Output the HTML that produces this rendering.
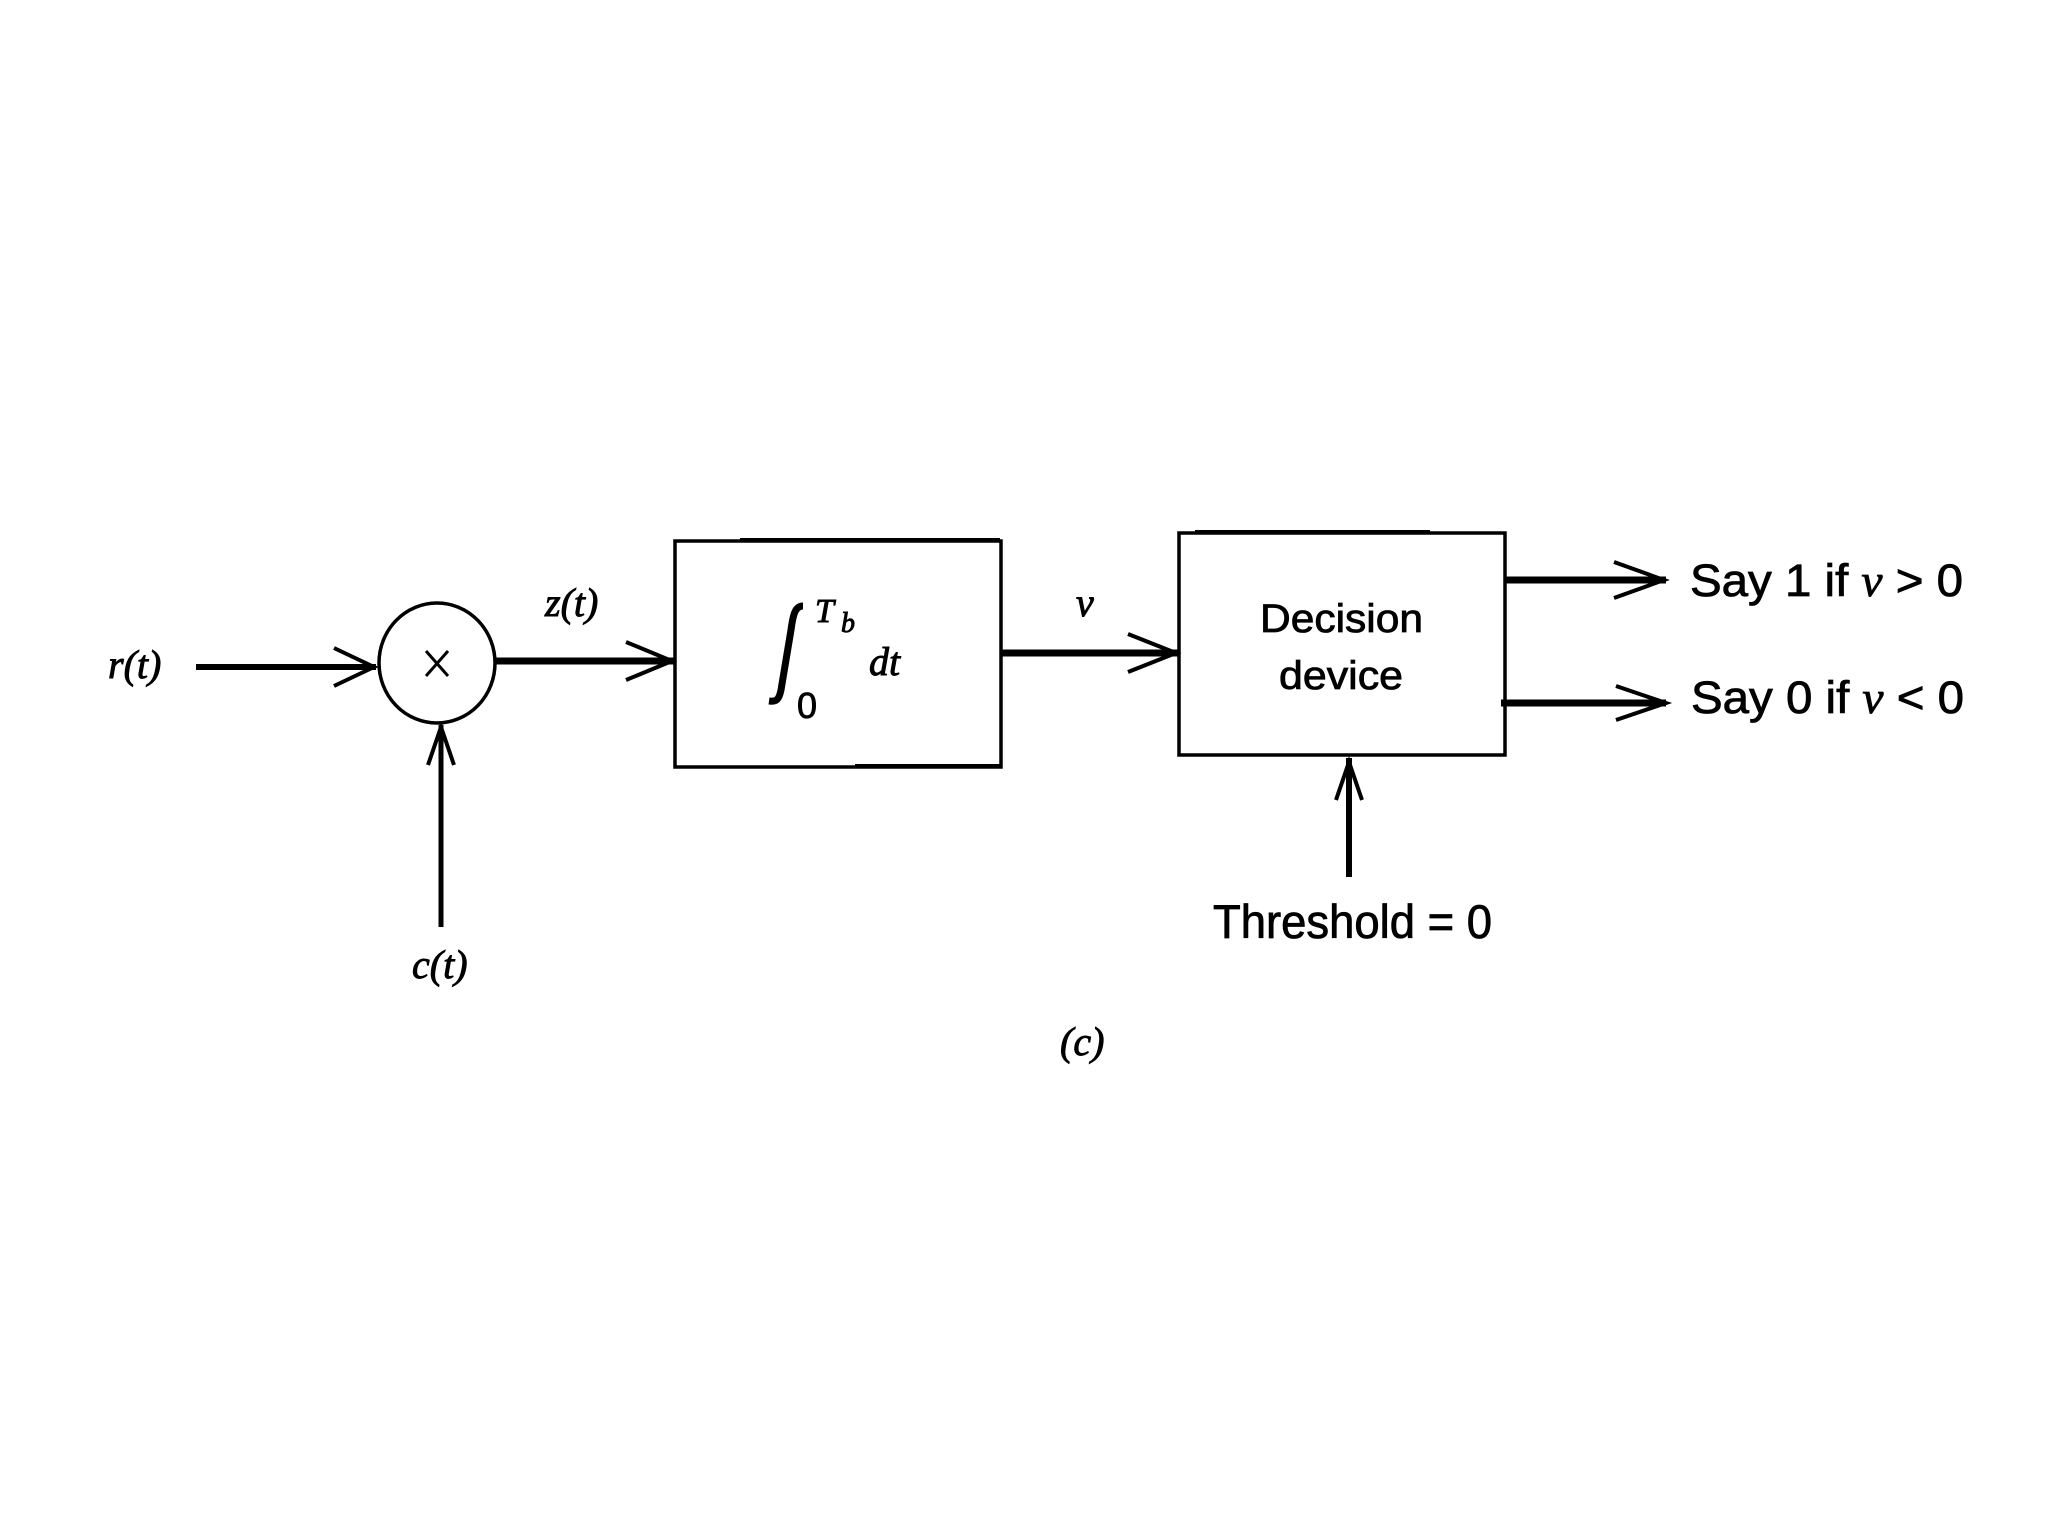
<!DOCTYPE html>
<html><head><meta charset="utf-8"><style>
html,body{margin:0;padding:0;background:#fff;}
svg{display:block}
.s{font-family:"Liberation Sans",sans-serif;fill:#000;stroke:#000;stroke-width:0.8}
.m{font-family:"Liberation Serif",serif;font-style:italic;fill:#000;stroke:#000;stroke-width:0.9}
</style></head><body>
<svg width="2048" height="1536" viewBox="0 0 2048 1536" xmlns="http://www.w3.org/2000/svg">
<g stroke="#000" fill="none" stroke-linecap="butt">
<line x1="196" y1="667" x2="376" y2="667" stroke-width="6"/>
<polyline points="334,648 374,667 334,686" stroke-width="4"/>
<ellipse cx="437" cy="663" rx="58" ry="60" stroke-width="3.5"/>
<line x1="426" y1="651" x2="448" y2="676" stroke-width="3"/>
<line x1="448" y1="651" x2="426" y2="676" stroke-width="3"/>
<line x1="441" y1="725" x2="441" y2="927" stroke-width="5"/>
<polyline points="428,765 441,727 454,765" stroke-width="4"/>
<line x1="496" y1="661" x2="674" y2="661" stroke-width="7"/>
<polyline points="626,642 672,661 626,680" stroke-width="4"/>
<rect x="675" y="541" width="326" height="226" stroke-width="3.5"/>
<line x1="740" y1="540" x2="1000" y2="540" stroke-width="4"/>
<line x1="855" y1="766" x2="1001" y2="766" stroke-width="4"/>
<line x1="1001" y1="653" x2="1178" y2="653" stroke-width="7"/>
<polyline points="1128,634 1176,653 1128,672" stroke-width="4"/>
<rect x="1179" y="533" width="326" height="222" stroke-width="3.5"/>
<line x1="1195" y1="532" x2="1430" y2="532" stroke-width="4"/>
<line x1="1505" y1="580" x2="1666" y2="580" stroke-width="7"/>
<polyline points="1614,562 1664,580 1614,598" stroke-width="4"/>
<line x1="1501" y1="703" x2="1666" y2="703" stroke-width="7"/>
<polyline points="1616,686 1666,703 1616,720" stroke-width="4"/>
<line x1="1349" y1="758" x2="1349" y2="877" stroke-width="6"/>
<polyline points="1336,800 1349,762 1362,800" stroke-width="4"/>
<path d="M803,606 C795,606 793,615 791,630 L781,690 C779,700 776,702 769,701" stroke-width="7"/>
</g>
<text class="m" x="108" y="678" font-size="40">r(t)</text>
<text class="m" x="545" y="616" font-size="40">z(t)</text>
<text class="m" x="412" y="978" font-size="40">c(t)</text>
<text class="m" x="1076" y="616" font-size="40">v</text>
<text class="m" x="1060" y="1055" font-size="40">(c)</text>
<text class="m" x="815" y="622" font-size="34">T</text>
<text class="m" x="841" y="632" font-size="28">b</text>
<text class="m" x="869" y="675" font-size="40">dt</text>
<text class="s" x="797" y="718" font-size="36">0</text>
<text class="s" x="1260" y="632" font-size="40" textLength="163" lengthAdjust="spacingAndGlyphs">Decision</text>
<text class="s" x="1279" y="689" font-size="40" textLength="124" lengthAdjust="spacingAndGlyphs">device</text>
<text class="s" x="1690" y="596" font-size="45" textLength="273" lengthAdjust="spacingAndGlyphs">Say 1 if <tspan font-family="Liberation Serif" font-style="italic">v</tspan> &gt; 0</text>
<text class="s" x="1691" y="713" font-size="45" textLength="273" lengthAdjust="spacingAndGlyphs">Say 0 if <tspan font-family="Liberation Serif" font-style="italic">v</tspan> &lt; 0</text>
<text class="s" x="1213" y="938" font-size="47" textLength="279" lengthAdjust="spacingAndGlyphs">Threshold = 0</text>
</svg>
</body></html>
